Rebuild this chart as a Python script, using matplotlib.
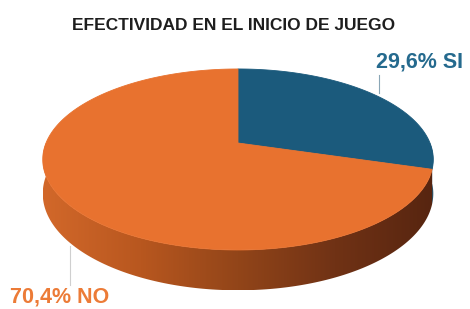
import numpy as np
import matplotlib
matplotlib.use("Agg")
import matplotlib.pyplot as plt
from matplotlib.patches import Polygon
from matplotlib.colors import LinearSegmentedColormap

# ---- data ----
title = "EFECTIVIDAD EN EL INICIO DE JUEGO"
categories = ["SI", "NO"]
values = [29.6, 70.4]
label_texts = ["29,6% SI", "70,4% NO"]

# ---- style ----
top_colors = ["#1B5A7C", "#E8722F"]
side_colors = ["#143F58", None]
label_colors = ["#256A8E", "#EC7B37"]
plt.rcParams['font.family'] = ['Liberation Sans', 'DejaVu Sans']

fig = plt.figure(figsize=(4.70, 3.09), dpi=100)
ax = fig.add_axes([0, 0, 1, 1])
ax.set_xlim(0, 470)
ax.set_ylim(309, 0)
ax.axis('off')

# perspective projection of a unit disc
cx, cy = 238.0, 143.0
sx, sc, k, D = 192.0, 87.5, 0.182, 33.0

def proj(theta_deg):
    t = np.radians(theta_deg)
    u, v = np.cos(t), np.sin(t)
    w = 1 + k * v
    return cx + sx * u / w, cy - sc * v / w, D / w

total = sum(values)
start = 90.0
angles = []
for val in values:
    end = start - 360.0 * val / total
    angles.append((end, start))
    start = end

# sides (front half: theta in [-180, 0])
for i, (a0, a1) in enumerate(angles):
    for shift in (0, -360, 360):
        lo, hi = max(a0 + shift, -180), min(a1 + shift, 0)
        if hi > lo:
            th = np.linspace(lo, hi, 200)
            X, Y, d = proj(th)
            px = np.concatenate([X, X[::-1]])
            py = np.concatenate([Y, (Y + d)[::-1]])
            poly = Polygon(np.column_stack([px, py]), closed=True,
                           facecolor=side_colors[i] or "none", edgecolor="none", zorder=2)
            ax.add_patch(poly)
            if side_colors[i] is None:
                cmap = LinearSegmentedColormap.from_list(
                    "side", ["#D2682A", "#B8571F", "#924519", "#703215", "#572510"])
                grad = np.linspace(0, 1, 256).reshape(1, -1)
                im = ax.imshow(grad, cmap=cmap, aspect='auto',
                               extent=(px.min(), px.max(), py.max(), py.min()), zorder=2)
                im.set_clip_path(poly)

# top surface
for i, (a0, a1) in enumerate(angles):
    th = np.linspace(a1, a0, 300)
    X, Y, _ = proj(th)
    pts = np.column_stack([np.concatenate([[cx], X]), np.concatenate([[cy], Y])])
    ax.add_patch(Polygon(pts, closed=True, facecolor=top_colors[i],
                         edgecolor=top_colors[i], linewidth=0.6, zorder=3))

# leader lines and labels
ax.plot([379, 379], [75, 93], color="#8AA6B6", lw=0.8, zorder=4)
ax.plot([70, 70], [246, 285], color="#CFCFCF", lw=0.8, zorder=1)
ax.text(376, 62, label_texts[0], color=label_colors[0], fontsize=15.5,
        fontweight='bold', ha='left', va='center')
ax.text(10, 297, label_texts[1], color=label_colors[1], fontsize=15.5,
        fontweight='bold', ha='left', va='center')

ax.text(234, 25, title, fontsize=12.5, fontweight='bold', color="#1E1E1E",
        ha='center', va='center')

fig.savefig("out.png", dpi=100)
